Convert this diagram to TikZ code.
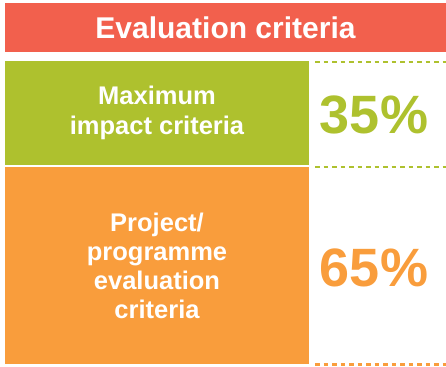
\documentclass[tikz,border=0pt]{standalone}
\usepackage{fontspec}
\setmainfont{Liberation Sans}
\definecolor{hdr}{HTML}{F2604D}
\definecolor{grn}{HTML}{AEC12E}
\definecolor{org}{HTML}{F99D3C}
\begin{document}
\begin{tikzpicture}[x=1pt,y=-1pt,
  box/.style={inner sep=0pt, outer sep=0pt, align=center, text=white, font=\bfseries},
  pct/.style={inner sep=0pt, font=\fontsize{54}{54}\selectfont\bfseries},
  dline/.style={line width=2.6pt, dash pattern=on 4.5pt off 4pt}]
\useasboundingbox (0,0) rectangle (446,366);
\node[box, fill=hdr, minimum width=441pt, minimum height=49pt, font=\fontsize{30}{30}\selectfont\bfseries] (head) at (225.5,27.5) {Evaluation criteria};
\node[box, fill=grn, minimum width=304pt, minimum height=104pt, font=\fontsize{25.5}{30}\selectfont\bfseries] (max) at (157,113) {Maximum\\impact criteria};
\node[box, fill=org, minimum width=304pt, minimum height=197pt, font=\fontsize{25.5}{29}\selectfont\bfseries] (proj) at (157,265.5) {Project/\\programme\\evaluation\\criteria};
\node[pct, text=grn] (p35) at (374,115) {35\%};
\node[pct, text=org] (p65) at (374,268) {65\%};
\coordinate (g1a) at (315,62);
\coordinate (g1b) at (446,62);
\coordinate (g2a) at (315,167);
\coordinate (g2b) at (446,167);
\coordinate (o1a) at (315,364.7);
\coordinate (o1b) at (446,364.7);
\draw[dline, grn] (g1a) -- (g1b);
\draw[dline, grn] (g2a) -- (g2b);
\draw[dline, org] (o1a) -- (o1b);
\end{tikzpicture}
\end{document}
